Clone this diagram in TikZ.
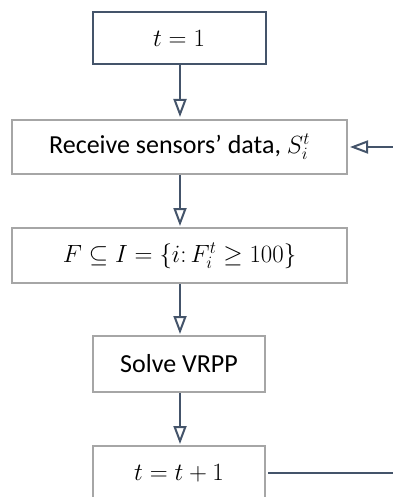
\documentclass[tikz,border=0pt]{standalone}
\usepackage{fontspec}
\setmainfont{Carlito}
\usetikzlibrary{arrows.meta}
\definecolor{slate}{HTML}{44546A}
\definecolor{framegray}{HTML}{A6A6A6}
\tikzset{
  every node/.style={font=\fontsize{26}{30}\selectfont},
  procbox/.style={draw=framegray, line width=2pt, fill=white, inner sep=0pt, align=center},
  startbox/.style={procbox, draw=slate},
  flow/.style={draw=slate, line width=2.4pt,
    -{Triangle[open, length=18pt, width=13pt, line width=2pt]}},
  mathtext/.style={font=\fontsize{27}{30}\selectfont}
}
\begin{document}
\begin{tikzpicture}[x=1pt, y=-1pt]
  \useasboundingbox (0,0) rectangle (392,497);

  \node[startbox, minimum width=173pt, minimum height=52pt, mathtext] (start) at (179,38) {$t=1$};
  \node[procbox, minimum width=335pt, minimum height=54pt] (recv) at (179.5,147) {Receive sensors’ data, {\fontsize{27}{30}\selectfont$S_i^t$}};
  \node[procbox, minimum width=335pt, minimum height=55pt, mathtext] (filter) at (179.5,255.5) {$F\subseteq I=\{i\colon F_i^t\geq 100\}$};
  \node[procbox, minimum width=172pt, minimum height=56pt] (solve) at (179,364) {Solve VRPP};
  \node[procbox, minimum width=172pt, minimum height=54pt, mathtext] (next) at (179,473) {$t=t+1$};

  \draw[flow] (start.south -| 180,0) -- (180,117);
  \draw[flow, shorten >=1pt] (recv.south -| 180,0) -- (filter.north -| 180,0);
  \draw[flow, shorten >=1pt] (filter.south -| 180,0) -- (solve.north -| 180,0);
  \draw[flow, shorten >=1pt] (solve.south -| 180,0) -- (next.north -| 180,0);

  % loop back from t = t+1 to the sensor step
  \draw[flow, shorten >=2pt] ([xshift=2pt]next.east) -- ++(160,0) coordinate (turn) |- (recv.east);
\end{tikzpicture}
\end{document}
